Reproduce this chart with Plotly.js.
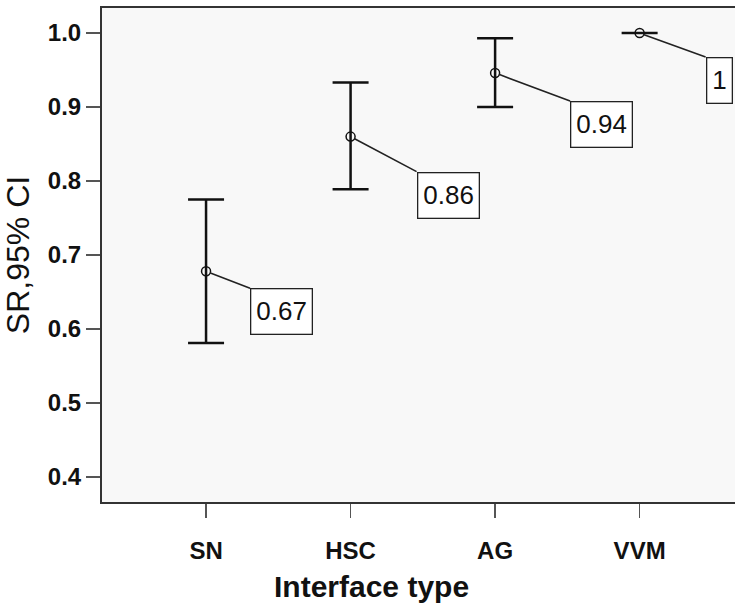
<!DOCTYPE html>
<html>
<head>
<meta charset="utf-8">
<script src="https://cdn.plot.ly/plotly-3.0.1.min.js"></script>
<style>
  html, body { margin: 0; padding: 0; background: #ffffff; overflow: hidden; }
  #chart { width: 735px; height: 606px; }
</style>
</head>
<body>
<div id="chart"></div>
<script>
// ---- data ----
const categories = ['SN', 'HSC', 'AG', 'VVM'];
const meanSR     = [0.678, 0.860, 0.946, 1.000];
const ciLower    = [0.581, 0.789, 0.900, 1.000];
const ciUpper    = [0.775, 0.933, 0.993, 1.000];
const valueLabels = ['0.67', '0.86', '0.94', '1'];
const yTickVals  = [0.4, 0.5, 0.6, 0.7, 0.8, 0.9, 1.0];
const yTickText  = ['0.4', '0.5', '0.6', '0.7', '0.8', '0.9', '1.0'];
const xTitleText = 'Interface type';
const yTitleText = 'SR,95% CI';

// ---- label box placement (pixel offsets from the point, layout only) ----
const labelOffsetX = [44, 66, 75, 66];
const labelOffsetY = [17, 35, 28, 24];

const trace = {
  type: 'scatter',
  mode: 'markers',
  x: categories,
  y: meanSR,
  marker: { symbol: 'circle-open', size: 9, color: '#111111', line: { width: 1.5, color: '#111111' } },
  error_y: {
    type: 'data',
    symmetric: false,
    array: ciUpper.map((u, i) => u - meanSR[i]),
    arrayminus: meanSR.map((m, i) => m - ciLower[i]),
    color: '#111111',
    thickness: 2.5,
    width: 18
  },
  hoverinfo: 'x+y',
  showlegend: false
};

const annotations = categories.map((c, i) => ({
  x: c, y: meanSR[i], xref: 'x', yref: 'y',
  text: valueLabels[i],
  showarrow: true, arrowhead: 0, arrowwidth: 1.6, arrowcolor: '#222222',
  standoff: 4,
  ax: labelOffsetX[i], ay: labelOffsetY[i],
  xanchor: 'left', yanchor: 'top',
  font: { family: 'Liberation Sans, Arial, sans-serif', size: 26, color: '#111111' },
  bgcolor: '#ffffff', bordercolor: '#222222', borderwidth: 1.3, borderpad: 5,
  height: 34
}));

annotations.push({
  xref: 'paper', yref: 'paper', x: 0.425, y: -0.172,
  xanchor: 'center', yanchor: 'middle', showarrow: false,
  text: xTitleText,
  font: { family: 'Liberation Sans, Arial, sans-serif', size: 30, weight: 'bold', color: '#111111' }
});

const layout = {
  width: 735, height: 606,
  margin: { l: 102, r: 0, t: 8, b: 104, pad: 0 },
  paper_bgcolor: '#ffffff',
  plot_bgcolor: '#f8f8f8',
  font: { family: 'Liberation Sans, Arial, sans-serif', color: '#111111' },
  xaxis: {
    type: 'category',
    range: [-0.72, 3.66],
    showgrid: false, zeroline: false,
    showline: true, linecolor: '#333333', linewidth: 2, mirror: true,
    ticks: 'outside', ticklen: 14, tickwidth: 1.5, tickcolor: '#555555',
    ticklabelstandoff: 12,
    tickfont: { family: 'Liberation Sans, Arial, sans-serif', size: 24, weight: 'bold', color: '#111111' },
    fixedrange: true
  },
  yaxis: {
    range: [0.3662, 1.0338],
    tickvals: yTickVals, ticktext: yTickText,
    showgrid: false, zeroline: false,
    showline: true, linecolor: '#333333', linewidth: 2,
    ticks: 'outside', ticklen: 14, tickwidth: 1.5, tickcolor: '#555555',
    tickfont: { family: 'Liberation Sans, Arial, sans-serif', size: 24, weight: 'bold', color: '#111111' },
    title: { text: yTitleText, standoff: 13,
             font: { family: 'Liberation Sans, Arial, sans-serif', size: 32, color: '#111111' } },
    fixedrange: true
  },
  annotations: annotations
};

Plotly.newPlot('chart', [trace], layout, { displayModeBar: false, staticPlot: true });
</script>
</body>
</html>
